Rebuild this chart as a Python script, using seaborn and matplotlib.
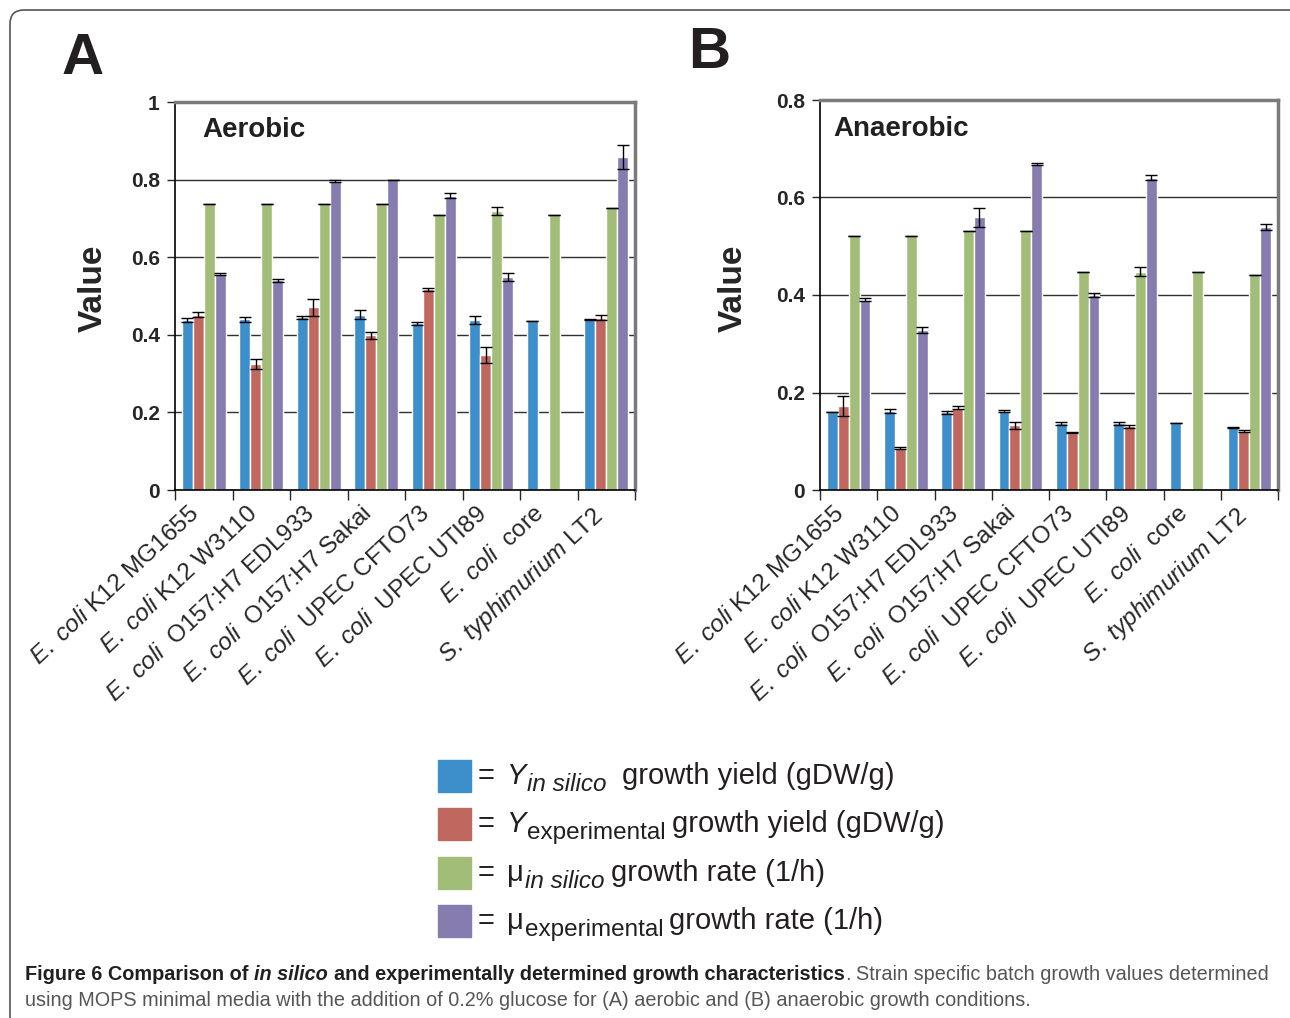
import numpy as np
import pandas as pd
import matplotlib
matplotlib.use("Agg")
import matplotlib.pyplot as plt
import seaborn as sns
from matplotlib import font_manager
from matplotlib.container import BarContainer
from matplotlib.patches import Rectangle, FancyBboxPatch
from matplotlib.ticker import FixedLocator, FuncFormatter
from matplotlib.transforms import ScaledTranslation

# -----------------------------
# Data
# -----------------------------
strains = ["MG1655", "W3110", "EDL933", "Sakai", "CFTO73", "UTI89", "core", "LT2"]
strain_labels = [
    r"$\mathit{E.\ coli}$ K12 MG1655",
    r"$\mathit{E.\ coli}$ K12 W3110",
    r"$\mathit{E.\ coli}$  O157:H7 EDL933",
    r"$\mathit{E.\ coli}$  O157:H7 Sakai",
    r"$\mathit{E.\ coli}$  UPEC CFTO73",
    r"$\mathit{E.\ coli}$  UPEC UTI89",
    r"$\mathit{E.\ coli}$  core",
    r"$\mathit{S.\ typhimurium}$ LT2",
]
measures = ["Y_sil", "Y_exp", "mu_sil", "mu_exp"]
colors = ["#3D8FCC", "#C0675F", "#A2BD78", "#877CB0"]

# aerobic
aer_y_sil = [0.438, 0.440, 0.445, 0.452, 0.430, 0.439, 0.435, 0.440]
aer_y_exp = [0.452, 0.325, 0.471, 0.399, 0.517, 0.348, np.nan, 0.444]
aer_mu_sil = [0.738, 0.738, 0.738, 0.738, 0.709, 0.719, 0.710, 0.727]
aer_mu_exp = [0.556, 0.540, 0.796, 0.800, 0.759, 0.549, np.nan, 0.859]
aer_y_sil_err = [0.005, 0.007, 0.004, 0.011, 0.004, 0.010, 0.0, 0.002]
aer_y_exp_err = [0.007, 0.013, 0.022, 0.009, 0.004, 0.021, 0.0, 0.006]
aer_mu_sil_err = [0.0, 0.0, 0.0, 0.0, 0.0, 0.010, 0.0, 0.0]
aer_mu_exp_err = [0.002, 0.004, 0.003, 0.0, 0.007, 0.011, 0.0, 0.031]

# anaerobic
ana_y_sil = [0.161, 0.162, 0.159, 0.162, 0.137, 0.137, 0.137, 0.129]
ana_y_exp = [0.172, 0.086, 0.169, 0.133, 0.117, 0.131, np.nan, 0.121]
ana_mu_sil = [0.521, 0.521, 0.532, 0.532, 0.448, 0.448, 0.447, 0.441]
ana_mu_exp = [0.390, 0.329, 0.559, 0.669, 0.400, 0.641, np.nan, 0.540]
ana_y_sil_err = [0.0, 0.004, 0.004, 0.002, 0.003, 0.003, 0.0, 0.001]
ana_y_exp_err = [0.021, 0.002, 0.003, 0.007, 0.001, 0.003, 0.0, 0.003]
ana_mu_sil_err = [0.0, 0.0, 0.0, 0.0, 0.0, 0.009, 0.0, 0.0]
ana_mu_exp_err = [0.003, 0.006, 0.020, 0.002, 0.005, 0.006, 0.0, 0.006]

# -----------------------------
# Style
# -----------------------------
sns.set_style("white")
plt.rcParams["font.family"] = ["Liberation Sans", "DejaVu Sans"]
plt.rcParams["mathtext.fontset"] = "custom"
plt.rcParams["mathtext.rm"] = "Liberation Sans"
plt.rcParams["mathtext.it"] = "Liberation Sans:italic"
plt.rcParams["mathtext.bf"] = "Liberation Sans:bold"

names = {f.name for f in font_manager.fontManager.ttflist}
cap_font = "Liberation Sans Narrow" if "Liberation Sans Narrow" in names else "Liberation Sans"

dark = "#231f20"
grey = "#555555"

W, H = 1290, 1018
fig = plt.figure(figsize=(W / 100, H / 100), dpi=100)

bg = fig.add_axes([0, 0, 1, 1], zorder=-1)
bg.set_xlim(0, W)
bg.set_ylim(H, 0)
bg.axis("off")
bg.add_patch(FancyBboxPatch((10, 10), 1320, 1060, boxstyle="round,pad=0,rounding_size=14",
                            fill=False, ec="#555555", lw=1.2))


def make_df(vals):
    rows = []
    for m, series in zip(measures, vals):
        for s, v in zip(strains, series):
            rows.append({"strain": s, "measure": m, "value": v})
    return pd.DataFrame(rows).dropna()


def draw_panel(rect, vals, errs, ymax, title, letter, letter_xy, ylab_xy):
    ax = fig.add_axes(rect)
    df = make_df(vals)
    sns.barplot(data=df, x="strain", y="value", hue="measure", order=strains,
                hue_order=measures, palette=colors, saturation=1, width=0.76,
                errorbar=None, legend=False, ax=ax, zorder=2)
    # error bars at the centres of the drawn bars
    bar_conts = [c for c in ax.containers if isinstance(c, BarContainer)]
    for i, cont in enumerate(bar_conts):
        xs, ys, es = [], [], []
        for bar in cont:
            xc = bar.get_x() + bar.get_width() / 2
            k = int(round(xc))
            if np.isnan(vals[i][k]):
                continue
            xs.append(xc)
            ys.append(vals[i][k])
            es.append(errs[i][k])
        ax.errorbar(xs, ys, yerr=es, fmt="none", ecolor="black", elinewidth=1,
                    capsize=4.5, capthick=1, zorder=3)

    ax.set_xlim(-0.5, len(strains) - 0.5)
    ax.set_ylim(0, ymax)
    yt = np.arange(0, ymax + 0.01, 0.2)
    ax.set_yticks(yt)
    ax.yaxis.set_major_formatter(FuncFormatter(lambda v, p: "%g" % round(v, 2)))
    ax.yaxis.grid(True, color="#303030", lw=1)
    ax.set_axisbelow(True)
    ax.tick_params(axis="y", direction="out", length=6, width=1, left=True,
                   labelsize=15, pad=5)
    for lab in ax.get_yticklabels():
        lab.set_fontweight("bold")
    ax.set_xticks(range(len(strains)))
    ax.tick_params(axis="x", length=0, pad=9)
    ax.xaxis.set_minor_locator(FixedLocator(np.arange(-0.5, len(strains), 1)))
    ax.tick_params(axis="x", which="minor", direction="out", length=7, width=1,
                   bottom=True)
    ax.set_xticklabels(strain_labels, rotation=43, ha="right",
                       rotation_mode="anchor", fontsize=17.5)
    shift = ScaledTranslation(-0.15, 0, fig.dpi_scale_trans)
    for lab in ax.get_xticklabels():
        lab.set_transform(lab.get_transform() + shift)
    ax.set_xlabel("")
    ax.set_ylabel("Value", fontsize=24, fontweight="bold")
    ax.yaxis.set_label_coords(*ylab_xy)

    for side in ["left", "bottom"]:
        ax.spines[side].set_color("black")
        ax.spines[side].set_linewidth(1.2)
    for side in ["top", "right"]:
        ax.spines[side].set_color("#7a7a7a")
        ax.spines[side].set_linewidth(2.5)

    ax.text(title[1], title[2], title[0], transform=ax.transAxes, fontsize=20,
            fontweight="bold", ha="left", va="center", color=dark)
    bg.text(letter_xy[0], letter_xy[1], letter, fontsize=42, fontweight="bold",
            ha="left", va="center", color=dark)
    return ax


draw_panel([175 / W, 1 - 490 / H, 460 / W, 388 / H],
           [aer_y_sil, aer_y_exp, aer_mu_sil, aer_mu_exp],
           [aer_y_sil_err, aer_y_exp_err, aer_mu_sil_err, aer_mu_exp_err],
           1.0, ("Aerobic", 0.06, 0.928), "A", (62, 59), (-0.145, 0.52))

draw_panel([820 / W, 1 - 490 / H, 458 / W, 390 / H],
           [ana_y_sil, ana_y_exp, ana_mu_sil, ana_mu_exp],
           [ana_y_sil_err, ana_y_exp_err, ana_mu_sil_err, ana_mu_exp_err],
           0.8, ("Anaerobic", 0.028, 0.925), "B", (688, 53), (-0.155, 0.518))

# -----------------------------
# Text placed piece by piece
# -----------------------------
renderer = fig.canvas.get_renderer()
inv = bg.transData.inverted()


def seq_text(pieces, x, y, **common):
    # pieces: (text, extra kwargs, dy in px, gap after in px)
    for txt, kw, dy, gap in pieces:
        opts = dict(common)
        opts.update(kw)
        t = bg.text(x, y + dy, txt, ha="left", va="baseline", **opts)
        ext = t.get_window_extent(renderer)
        x = inv.transform((ext.x1, ext.y1))[0] + gap


# legend
main = {"fontsize": 21}
sub = {"fontsize": 17.5}
subit = {"fontsize": 17.5, "fontstyle": "italic"}
legend_rows = [
    [("=", main, 0, 12), ("Y", {"fontsize": 21, "fontstyle": "italic"}, 0, 1),
     ("in silico", subit, 7, 15), ("growth yield (gDW/g)", main, 0, 0)],
    [("=", main, 0, 12), ("Y", {"fontsize": 21, "fontstyle": "italic"}, 0, 1),
     ("experimental", sub, 7, 6), ("growth yield (gDW/g)", main, 0, 0)],
    [("=", main, 0, 12), ("μ", main, 0, 1),
     ("in silico", subit, 7, 7), ("growth rate (1/h)", main, 0, 0)],
    [("=", main, 0, 12), ("μ", main, 0, 1),
     ("experimental", sub, 7, 6), ("growth rate (1/h)", main, 0, 0)],
]
legend_y = [776, 824, 873, 921]
for c, row, y in zip(colors, legend_rows, legend_y):
    bg.add_patch(Rectangle((438, y - 16), 33, 32, color=c))
    seq_text(row, 478, y + 8, color=dark)

# caption
cap = {"fontsize": 14.3, "family": cap_font}
b = {"fontweight": "bold", "color": dark}
bi = {"fontweight": "bold", "fontstyle": "italic", "color": dark}
r = {"color": grey}
seq_text([
    ("Figure 6 Comparison of", b, 0, 6),
    ("in silico", bi, 0, 6),
    ("and experimentally determined growth characteristics", b, 0, 0),
    (".", r, 0, 5),
    ("Strain specific batch growth values determined", r, 0, 0),
], 25, 980, **cap)
seq_text([
    ("using MOPS minimal media with the addition of 0.2% glucose for (A) aerobic and (B) anaerobic growth conditions.",
     r, 0, 0),
], 25, 1006, **cap)

fig.savefig("out.png", dpi=100)
